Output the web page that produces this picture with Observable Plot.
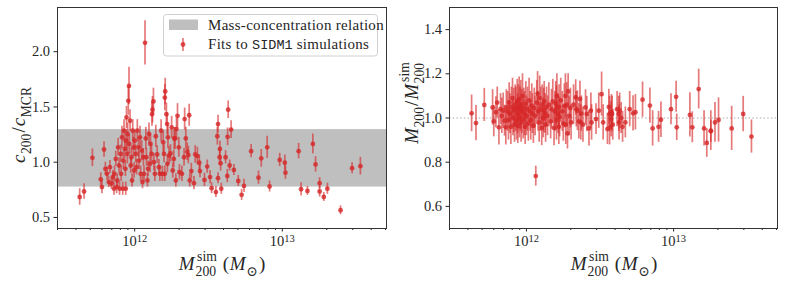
<!DOCTYPE html>
<html>
<head>
<meta charset="utf-8">
<script src="https://cdn.jsdelivr.net/npm/d3@7"></script>
<script src="https://cdn.jsdelivr.net/npm/@observablehq/plot@0.6"></script>
<style>
  html, body { margin: 0; padding: 0; background: #fff; }
  #wrap { display: flex; width: 785px; height: 281px; }
  #left { width: 392px; } #right { width: 393px; }
  svg { display: block; }
</style>
</head>
<body>
<div id="wrap"><div id="left"></div><div id="right"></div></div>
<script>
// Halo mass M200^sim in units of 1e12 Msun
const massE12 = [
  0.424,0.454,0.517,0.589,0.600,0.620,0.633,0.650,0.667,0.680,
  0.695,0.710,0.724,0.730,0.745,0.755,0.763,0.772,0.784,0.790,
  0.804,0.810,0.820,0.830,0.838,0.847,0.856,0.865,0.870,0.874,
  0.880,0.892,0.896,0.905,0.915,0.920,0.930,0.940,0.950,0.960,
  0.970,0.980,0.990,1.000,1.016,1.030,1.042,1.060,1.070,1.087,
  1.098,1.115,1.130,1.145,1.157,1.175,1.190,1.200,1.220,1.230,
  1.250,1.270,1.280,1.300,1.310,1.320,1.340,1.350,1.370,1.390,
  1.420,1.460,1.480,1.510,1.540,1.560,1.580,1.600,1.600,1.610,
  1.640,1.660,1.665,1.680,1.710,1.750,1.780,1.810,1.840,1.850,
  1.880,1.900,1.920,1.950,1.990,2.010,2.090,2.160,2.180,2.220,
  2.270,2.310,2.340,2.360,2.420,2.520,2.570,2.660,2.740,2.770,
  2.970,3.100,3.240,3.320,3.550,3.630,3.670,3.670,3.760,3.780,
  3.820,3.860,4.130,4.240,4.260,4.300,4.400,4.500,4.700,5.030,
  5.300,5.500,6.150,6.900,7.200,7.900,8.200,9.600,10.40,10.50,
  12.90,13.40,14.80,16.10,16.80,17.90,17.90,19.10,20.20,24.80,
  29.70,33.80
];
// c200 / c_MCR and its uncertainty
const cRatio = [
  0.685,0.735,1.04,0.845,0.775,1.115,0.94,0.895,0.82,0.955,
  0.805,0.865,0.76,0.895,1.03,0.775,0.835,1.135,0.97,0.76,
  1.075,0.895,1.225,0.76,1.015,1.285,1.12,0.94,0.76,1.195,
  1.405,1.075,1.255,1.555,1.69,1.165,1.375,0.97,1.045,0.835,
  1.285,1.135,0.925,1.195,1.075,0.955,1.285,1.135,1.015,1.225,
  0.895,1.105,0.82,1.045,0.895,2.08,1.215,1.045,0.835,0.94,
  1.255,0.985,1.165,1.075,1.435,1.475,1.55,1.0,0.895,1.235,
  1.07,0.955,0.895,1.285,0.895,1.18,1.075,0.895,1.585,1.64,
  1.435,1.345,0.985,1.225,1.06,1.08,1.315,0.925,1.03,1.215,
  1.215,0.835,1.3,1.42,1.135,0.91,0.895,1.045,1.39,1.215,
  1.095,1.065,1.425,0.835,0.92,0.81,1.07,1.055,0.995,0.92,
  0.84,0.96,0.865,0.765,0.73,1.235,1.345,0.855,1.045,1.12,
  0.99,0.76,1.045,0.875,1.23,1.475,0.97,1.295,0.93,0.83,
  0.705,0.785,1.10,0.86,1.035,1.135,0.78,1.02,0.995,0.905,
  1.10,0.755,0.74,1.165,0.98,0.81,0.735,0.685,0.76,0.565,
  0.946,0.964
];
const cErr = [
  0.075,0.07,0.08,0.06,0.06,0.07,0.06,0.06,0.05,0.06,
  0.05,0.06,0.06,0.07,0.07,0.06,0.06,0.08,0.07,0.06,
  0.08,0.07,0.1,0.06,0.08,0.1,0.09,0.07,0.06,0.1,
  0.1,0.09,0.1,0.13,0.17,0.09,0.1,0.07,0.08,0.06,
  0.1,0.09,0.07,0.09,0.08,0.07,0.1,0.09,0.08,0.1,
  0.07,0.09,0.06,0.08,0.07,0.2,0.1,0.08,0.06,0.07,
  0.1,0.08,0.09,0.08,0.11,0.12,0.12,0.08,0.07,0.1,
  0.08,0.07,0.07,0.1,0.07,0.1,0.08,0.07,0.12,0.12,
  0.1,0.1,0.08,0.1,0.08,0.08,0.1,0.07,0.08,0.1,
  0.1,0.06,0.1,0.11,0.09,0.07,0.07,0.08,0.1,0.1,
  0.08,0.08,0.1,0.06,0.07,0.06,0.08,0.08,0.07,0.06,
  0.06,0.06,0.06,0.05,0.05,0.08,0.08,0.05,0.07,0.07,
  0.07,0.05,0.06,0.06,0.08,0.08,0.05,0.08,0.05,0.05,
  0.05,0.06,0.06,0.06,0.08,0.1,0.05,0.06,0.07,0.06,
  0.07,0.06,0.04,0.09,0.07,0.05,0.05,0.04,0.05,0.04,
  0.05,0.08
];
// M200 / M200^sim and its uncertainty
const mRatio = [
  1.021,0.977,1.059,1.048,0.985,1.026,1.07,0.958,1.04,1.01,
  1.033,0.988,0.958,1.048,1.03,0.99,1.07,1.02,0.96,1.05,
  1.09,1.0,1.035,0.97,1.06,1.04,0.99,1.075,1.02,0.965,
  1.05,1.085,1.0,1.04,1.06,0.98,1.03,1.1,0.995,1.045,
  1.02,0.96,1.065,1.01,1.04,0.975,1.08,1.03,0.99,1.055,
  1.02,0.965,1.045,1.01,0.737,1.07,1.11,1.03,0.98,1.09,
  1.04,0.955,1.06,1.0,1.035,1.075,1.02,0.97,1.05,1.01,
  1.06,0.985,1.04,1.075,0.955,1.03,1.065,0.99,1.045,1.1,
  1.02,0.96,1.05,1.005,1.08,1.03,0.975,1.055,1.1,0.97,
  1.06,0.93,1.12,1.01,1.045,0.98,1.06,1.093,1.04,1.033,
  0.985,1.086,0.98,1.02,0.97,1.048,1.018,0.953,1.033,0.98,
  0.995,1.033,1.108,0.98,0.95,1.05,1.018,0.958,0.995,1.026,
  1.018,0.97,1.04,1.018,0.98,1.033,1.0,0.96,0.98,1.04,
  1.021,1.026,1.083,1.056,0.953,0.96,0.992,1.04,1.096,0.958,
  1.014,0.958,1.131,0.953,0.887,0.943,0.94,0.98,0.991,0.953,
  1.018,0.916
];
const mErr = [
  0.083,0.08,0.075,0.08,0.07,0.07,0.07,0.08,0.07,0.08,
  0.08,0.07,0.08,0.08,0.09,0.09,0.09,0.09,0.08,0.09,
  0.09,0.08,0.1,0.08,0.09,0.1,0.09,0.1,0.09,0.08,
  0.1,0.1,0.09,0.1,0.11,0.09,0.1,0.1,0.09,0.09,
  0.1,0.08,0.1,0.09,0.1,0.08,0.1,0.09,0.09,0.1,
  0.09,0.08,0.09,0.09,0.045,0.1,0.1,0.09,0.09,0.1,
  0.1,0.08,0.09,0.09,0.1,0.09,0.09,0.08,0.09,0.09,
  0.1,0.08,0.09,0.1,0.08,0.09,0.1,0.09,0.1,0.1,
  0.09,0.08,0.1,0.09,0.1,0.09,0.08,0.1,0.1,0.09,
  0.1,0.07,0.08,0.09,0.09,0.08,0.09,0.08,0.08,0.09,
  0.08,0.08,0.08,0.08,0.08,0.08,0.08,0.08,0.08,0.08,
  0.07,0.08,0.1,0.08,0.07,0.08,0.08,0.08,0.08,0.08,
  0.08,0.07,0.08,0.08,0.08,0.08,0.07,0.07,0.07,0.08,
  0.08,0.08,0.08,0.08,0.08,0.07,0.08,0.07,0.07,0.06,
  0.1,0.07,0.09,0.08,0.065,0.09,0.05,0.09,0.1,0.1,
  0.08,0.075
];
// mass-concentration relation band
const bandLow = 0.775, bandHigh = 1.295;
// axes
const xDomain = [0.3, 50.8];
const xMajorTicks = [1, 10];
const xMajorExponents = ["12", "13"];
const xMinorTicks = [0.3,0.4,0.5,0.6,0.7,0.8,0.9,2,3,4,5,6,7,8,9,20,30,40,50];
const leftYTicks = [0.5, 1.0, 1.5, 2.0];
const rightYTicks = [0.6, 0.8, 1.0, 1.2, 1.4];
const legendLabels = ["Mass-concentration relation", "Fits to ", "SIDM1", " simulations"];

const RED = "#d62728";
const rows = massE12.map((m, i) => ({
  m, c: cRatio[i], cLo: cRatio[i] - cErr[i], cHi: cRatio[i] + cErr[i],
  r: mRatio[i], rLo: mRatio[i] - mErr[i], rHi: mRatio[i] + mErr[i]
}));
const band = [{x1: xDomain[0], x2: xDomain[1], y1: bandLow, y2: bandHigh}];

const FONT = "'Liberation Serif', 'DejaVu Serif', serif";
const common = {
  height: 281, marginTop: 7, marginBottom: 53, marginLeft: 57,
  style: {fontFamily: FONT, fontSize: "14.5px", color: "#262626", background: "white", overflow: "visible"},
  x: {type: "log", domain: xDomain}
};
function axes(yTicks) {
  return [
    Plot.axisY({ticks: yTicks, tickSize: 3.5, tickPadding: 4, tickFormat: d => d.toFixed(1), label: null}),
    Plot.axisX({ticks: xMinorTicks, tickSize: 2, tickFormat: () => "", label: null}),
    Plot.axisX({ticks: xMajorTicks, tickSize: 3.5, tickPadding: 4, tickFormat: d => "10^" + xMajorExponents[xMajorTicks.indexOf(d)], label: null}),
    Plot.frame({stroke: "#333", strokeWidth: 1})
  ];
}

const left = Plot.plot({
  ...common, width: 392, marginRight: 6,
  y: {domain: [0.4, 2.4]},
  marks: [
    Plot.rect(band, {x1: "x1", x2: "x2", y1: "y1", y2: "y2", fill: "#bfbfbf"}),
    Plot.ruleX(rows, {x: "m", y1: "cLo", y2: "cHi", stroke: RED, strokeOpacity: 0.62, strokeWidth: 1.7}),
    Plot.dot(rows, {x: "m", y: "c", r: 2.4, fill: RED, fillOpacity: 0.8, stroke: "none"}),
    ...axes(leftYTicks)
  ]
});
const right = Plot.plot({
  ...common, width: 393, marginRight: 8,
  y: {domain: [0.5, 1.5]},
  marks: [
    Plot.ruleY([1.0], {stroke: "#aaa", strokeWidth: 1, strokeDasharray: "1.5,2.2"}),
    Plot.ruleX(rows, {x: "m", y1: "rLo", y2: "rHi", stroke: RED, strokeOpacity: 0.62, strokeWidth: 1.7}),
    Plot.dot(rows, {x: "m", y: "r", r: 2.4, fill: RED, fillOpacity: 0.8, stroke: "none"}),
    ...axes(rightYTicks)
  ]
});
document.getElementById("left").append(left);
document.getElementById("right").append(right);

// superscripted 10^n tick labels
for (const svg of [left, right]) {
  d3.select(svg).selectAll("text").each(function () {
    const s = this.textContent;
    const m = /^10\^(\d+)$/.exec(s);
    if (!m) return;
    const t = d3.select(this);
    t.text("");
    t.append("tspan").text("10");
    t.append("tspan").attr("dy", "-0.45em").attr("font-size", "10.5px").text(m[1]);
  });
}

// math-style labels
function mathText(svg, x, y, size, parts, rotate) {
  const g = d3.select(svg).append("g").attr("fill", "#262626").attr("font-family", FONT).attr("text-anchor", "start");
  let cx = 0;
  for (const p of parts) {
    if (p.t !== undefined) {
      const t = g.append("text").attr("x", cx).attr("y", 0).attr("font-size", p.size || size)
        .attr("font-style", p.it ? "italic" : "normal").text(p.t);
      cx += t.node().getComputedTextLength() + (p.pad || 0);
    } else {
      let w = 0;
      if (p.sup) {
        const t = g.append("text").attr("x", cx + (p.supShift || 0)).attr("y", -size * 0.45).attr("font-size", size * 0.72).text(p.sup);
        w = Math.max(w, t.node().getComputedTextLength() + (p.supShift || 0));
      }
      if (p.sub) {
        const t = g.append("text").attr("x", cx).attr("y", size * 0.32).attr("font-size", size * 0.72).text(p.sub);
        w = Math.max(w, t.node().getComputedTextLength());
      }
      cx += w + (p.pad || 0);
    }
  }
  g.attr("transform", rotate
    ? `translate(${x},${y}) rotate(-90) translate(${-cx / 2},0)`
    : `translate(${x - cx / 2},${y})`);
}
const xLabelParts = [
  {t: "M", it: true, pad: 1}, {sup: "sim", sub: "200", supShift: 1.5, pad: 6},
  {t: "(", pad: 0.5}, {t: "M", it: true, pad: 1}, {sub: "\u2299", pad: 1}, {t: ")"}
];
mathText(left, 222, 270, 19, xLabelParts, false);
mathText(right, 222, 270, 19, xLabelParts, false);
mathText(left, 25, 125, 19, [
  {t: "c", it: true, pad: 0.5}, {sub: "200", pad: 1}, {t: "/", pad: 1},
  {t: "c", it: true, pad: 0.5}, {sub: "MCR"}
], true);
mathText(right, 26, 103, 19, [
  {t: "M", it: true, pad: 0.5}, {sub: "200", pad: 1}, {t: "/", pad: 1},
  {t: "M", it: true, pad: 0.5}, {sup: "sim", sub: "200", supShift: 1.5}
], true);

// legend
const lg = d3.select(left).append("g").attr("font-family", FONT).attr("font-size", 15)
  .attr("fill", "#262626").attr("text-anchor", "start");
lg.append("rect").attr("x", 163.5).attr("y", 14.5).attr("width", 214).attr("height", 41.5)
  .attr("rx", 3).attr("fill", "white").attr("fill-opacity", 0.8).attr("stroke", "#d0d0d0");
lg.append("rect").attr("x", 169).attr("y", 19.5).attr("width", 29).attr("height", 10.5).attr("fill", "#bfbfbf");
lg.append("text").attr("x", 208).attr("y", 29.5).attr("letter-spacing", 0.3).text(legendLabels[0]);
lg.append("line").attr("x1", 183).attr("x2", 183).attr("y1", 38).attr("y2", 51)
  .attr("stroke", RED).attr("stroke-opacity", 0.62).attr("stroke-width", 1.7);
lg.append("circle").attr("cx", 183).attr("cy", 44.5).attr("r", 2.4).attr("fill", RED).attr("fill-opacity", 0.8);
const t2 = lg.append("text").attr("x", 208).attr("y", 49).attr("letter-spacing", 0.3);
t2.append("tspan").text(legendLabels[1]);
t2.append("tspan").attr("font-family", "'Liberation Mono', 'DejaVu Sans Mono', monospace").attr("font-size", 13.5).attr("letter-spacing", 0).text(legendLabels[2]);
t2.append("tspan").text(legendLabels[3]);
</script>
</body>
</html>
